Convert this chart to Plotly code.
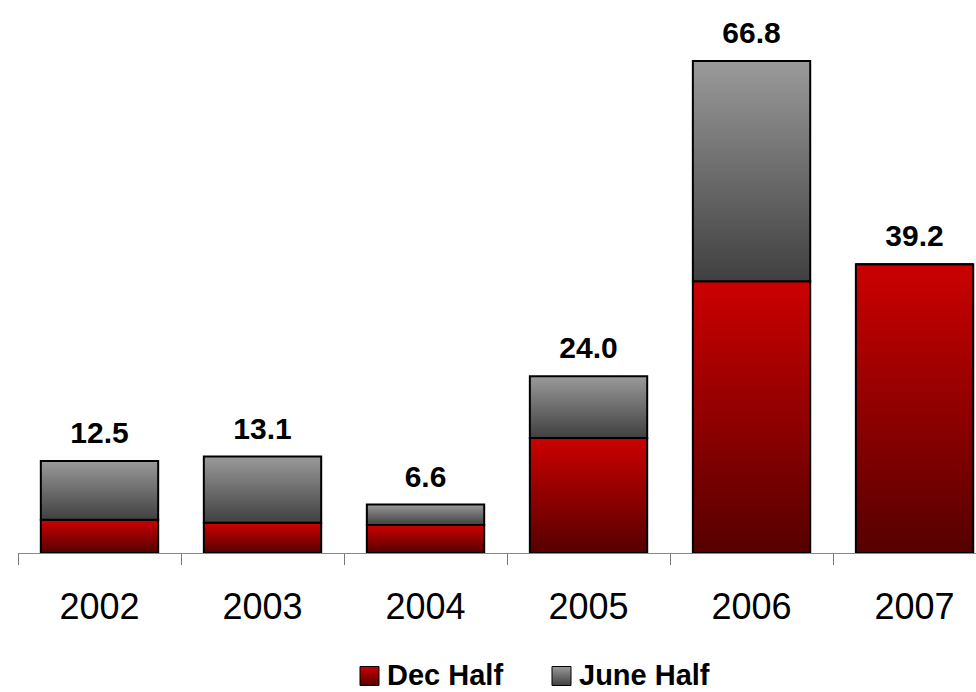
import plotly.graph_objects as go

# Half-year values per year; column totals are printed above each column
years = ["2002", "2003", "2004", "2005", "2006", "2007"]
dec_half = [4.5, 4.1, 3.8, 15.6, 36.9, 39.2]
june_half = [8.0, 9.0, 2.8, 8.4, 29.9, 0.0]
series_names = ["Dec Half", "June Half"]

totals = [round(d + j, 1) for d, j in zip(dec_half, june_half)]
total_labels = [f"<b>{t:.1f}</b>" for t in totals]

FONT = "Liberation Sans, Arial, Helvetica, sans-serif"
N_STEPS = 60

# (top colour, bottom colour) of each series' vertical gradient
RED = ((0xCC, 0x00, 0x00), (0x55, 0x00, 0x00))
GREY = ((0x9A, 0x9A, 0x9A), (0x40, 0x40, 0x40))

# figure geometry in pixels: plotting box of the column chart
W, H = 976, 692
BOX_L, BOX_R, BOX_T, BOX_B = 18, 976, 20, 553


def mix(top, bottom, t):
    """t = 0 at the bottom of a segment, 1 at its top."""
    r, g, b = (round(bc + (tc - bc) * t) for tc, bc in zip(top, bottom))
    return f"rgb({r},{g},{b})"


def gradient_segments(bases, heights, colours, name):
    """Shade each column segment with overlapping bands, drawn bottom to top."""
    top, bottom = colours
    traces = []
    for k in range(N_STEPS):
        t = (k + 0.5) / N_STEPS
        band_base = [b + h * k / N_STEPS for b, h in zip(bases, heights)]
        band_len = [b + h - bb for b, h, bb in zip(bases, heights, band_base)]
        traces.append(go.Bar(
            x=years, y=band_len, base=band_base,
            marker=dict(color=mix(top, bottom, t), line=dict(width=0)),
            name=name, showlegend=False, hoverinfo="skip",
        ))
    # black outline around the whole segment
    traces.append(go.Bar(
        x=years, y=heights, base=bases,
        marker=dict(color="rgba(0,0,0,0)", line=dict(color="#000000", width=2)),
        name=name, showlegend=False,
        hovertemplate="%{x}: %{y:.1f}<extra>" + name + "</extra>",
    ))
    return traces


fig = go.Figure()

dec_base = [0.0] * len(years)
june_base = list(dec_half)
for tr in gradient_segments(dec_base, dec_half, RED, series_names[0]):
    fig.add_trace(tr)
for tr in gradient_segments(june_base, june_half, GREY, series_names[1]):
    fig.add_trace(tr)

# totals above each column (an invisible marker sets the gap above the bar)
fig.add_trace(go.Scatter(
    x=years, y=totals, mode="markers+text", text=total_labels,
    textposition="top center",
    textfont=dict(family=FONT, size=30, color="#000000"),
    marker=dict(size=15, opacity=0), showlegend=False, hoverinfo="skip",
    cliponaxis=False,
))

# legend row, drawn on a full-figure pixel subplot (x2/y2)
LEG_Y = 676          # vertical centre of the legend keys
LEG_X0 = 369.5       # centre of the first key
LEG_STEP = 192       # distance between keys
KEY_TO_TEXT = 17.5   # key centre to label start
key_x = [LEG_X0 + i * LEG_STEP for i in range(len(series_names))]
for name, (top, bottom), kx in zip(series_names, (RED, GREY), key_x):
    fig.add_trace(go.Scatter(
        x=[kx], y=[LEG_Y], mode="markers", xaxis="x2", yaxis="y2",
        marker=dict(symbol="square", size=19, color=mix(top, bottom, 1.0),
                    gradient=dict(type="vertical", color=mix(top, bottom, 0.0)),
                    line=dict(color="#000000", width=1)),
        showlegend=False, hoverinfo="skip", cliponaxis=False,
    ))
fig.add_trace(go.Scatter(
    x=[kx + KEY_TO_TEXT for kx in key_x], y=[LEG_Y + 1.5] * len(key_x),
    mode="text", text=[f"<b>{n}</b>" for n in series_names],
    textposition="middle right", xaxis="x2", yaxis="y2",
    textfont=dict(family=FONT, size=29, color="#000000"),
    showlegend=False, hoverinfo="skip", cliponaxis=False,
))

fig.update_layout(
    width=W, height=H,
    margin=dict(l=0, r=0, t=0, b=0),
    paper_bgcolor="#ffffff", plot_bgcolor="rgba(0,0,0,0)",
    barmode="overlay", bargap=0.28,
    showlegend=False,
    xaxis=dict(
        type="category", range=[-0.5, 5.377],
        domain=[BOX_L / W, BOX_R / W], anchor="y",
        showgrid=False, zeroline=False,
        showline=True, linecolor="#888888", linewidth=1,
        ticks="outside", tickson="boundaries", ticklen=11,
        tickcolor="#777777", tickwidth=1,
        tickfont=dict(family=FONT, size=36, color="#000000"),
        ticklabelstandoff=22,
    ),
    yaxis=dict(range=[0, 72.37], domain=[1 - BOX_B / H, 1 - BOX_T / H],
               anchor="x", visible=False, fixedrange=True),
    xaxis2=dict(domain=[0, 1], anchor="y2", range=[0, W],
                visible=False, fixedrange=True),
    yaxis2=dict(domain=[0, 1], anchor="x2", range=[H, 0],
                visible=False, fixedrange=True),
)

fig.write_html("out.html")
